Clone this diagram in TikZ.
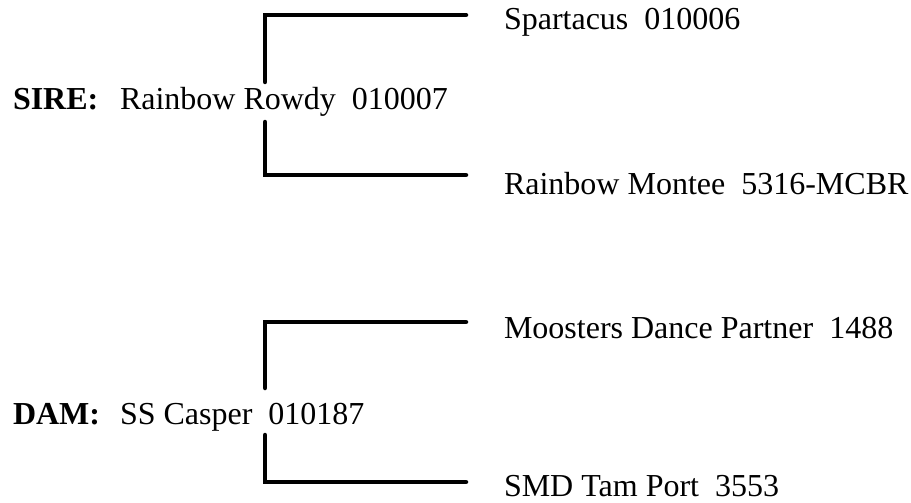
\documentclass[tikz,border=0pt]{standalone}
\usepackage{fontspec}
\setmainfont{Liberation Serif}
\begin{document}
\begin{tikzpicture}[x=1pt,y=-1pt,
  lbl/.style={anchor=base west,inner sep=0pt,outer sep=0pt,font=\fontsize{32}{38}\selectfont},
  key/.style={lbl,font=\fontsize{32}{38}\selectfont\bfseries},
  bracket/.style={draw=black,line width=4.5pt,line cap=round,line join=miter}]
\useasboundingbox (0,0) rectangle (911,503);
% sire side
\node[key] (sirekey) at (13,110) {SIRE:};
\node[lbl] (sire) at (120,110) {Rainbow Rowdy\ \ 010007};
\node[lbl] (ss) at (504,30) {Spartacus\ \ 010006};
\node[lbl] (sd) at (504,194) {Rainbow Montee\ \ 5316-MCBR};
% dam side
\node[key] (damkey) at (13,424) {DAM:};
\node[lbl] (dam) at (120,424) {SS Casper\ \ 010187};
\node[lbl] (ds) at (504,338) {Moosters Dance Partner\ \ 1488};
\node[lbl] (dd) at (504,496) {SMD Tam Port\ \ 3553};
% bracket coordinates
\coordinate (s1) at (466,15);
\coordinate (s1v) at (265,82);
\coordinate (s2) at (466,175);
\coordinate (s2v) at (265,122);
\coordinate (d1) at (466,322);
\coordinate (d1v) at (265,388);
\coordinate (d2) at (466,482);
\coordinate (d2v) at (265,435);
\draw[bracket] (s1) -| (s1v);
\draw[bracket] (s2) -| (s2v);
\draw[bracket] (d1) -| (d1v);
\draw[bracket] (d2) -| (d2v);
\end{tikzpicture}
\end{document}
